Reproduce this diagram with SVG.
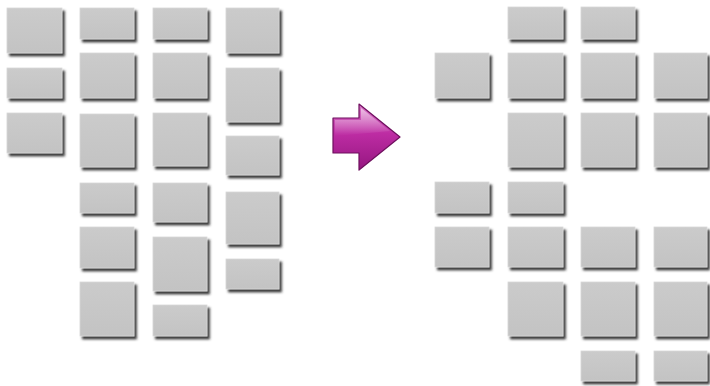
<svg xmlns="http://www.w3.org/2000/svg" width="710" height="386" viewBox="0 0 710 386">
<defs>
<filter id="sh" x="-20%" y="-20%" width="150%" height="150%">
<feDropShadow dx="2.5" dy="3" stdDeviation="1" flood-color="#333333" flood-opacity="0.95"/>
</filter>
<linearGradient id="bg" x1="0" y1="0" x2="0" y2="1">
<stop offset="0" stop-color="#cbcbcb"/>
<stop offset="1" stop-color="#c3c3c3"/>
</linearGradient>
<linearGradient id="ag" x1="0" y1="0" x2="0" y2="1">
<stop offset="0" stop-color="#d978c8"/>
<stop offset="0.45" stop-color="#bd2ca3"/>
<stop offset="1" stop-color="#951680"/>
</linearGradient>
<linearGradient id="hl" x1="0" y1="0" x2="0" y2="1">
<stop offset="0" stop-color="#ffffff" stop-opacity="0.55"/>
<stop offset="1" stop-color="#ffffff" stop-opacity="0"/>
</linearGradient>
</defs>
<style>
.b{fill:url(#bg);stroke:#d8d8d8;stroke-width:0.8;filter:url(#sh)}
</style>
<rect width="710" height="386" fill="#ffffff"/>
<g id="left">
<rect class="b" x="7" y="8" width="55" height="45"/>
<rect class="b" x="7" y="68" width="55" height="30"/>
<rect class="b" x="7" y="113" width="55" height="40"/>
<rect class="b" x="80" y="8" width="54" height="31"/>
<rect class="b" x="80" y="53" width="54" height="45"/>
<rect class="b" x="80" y="114" width="54" height="53"/>
<rect class="b" x="80" y="183" width="54" height="30"/>
<rect class="b" x="80" y="227" width="54" height="41"/>
<rect class="b" x="80" y="282" width="54" height="54"/>
<rect class="b" x="153" y="8" width="54" height="31"/>
<rect class="b" x="153" y="53" width="54" height="45"/>
<rect class="b" x="153" y="113" width="54" height="53"/>
<rect class="b" x="153" y="183" width="54" height="39"/>
<rect class="b" x="153" y="237" width="54" height="54"/>
<rect class="b" x="153" y="305" width="54" height="31"/>
<rect class="b" x="226" y="8" width="53" height="45"/>
<rect class="b" x="226" y="68" width="53" height="54"/>
<rect class="b" x="226" y="136" width="53" height="39"/>
<rect class="b" x="226" y="192" width="53" height="52"/>
<rect class="b" x="226" y="259" width="53" height="30"/>
</g>
<g id="arrow">
<path d="M333,118 L359,118 L359,104 L400,137 L359,170 L359,153 L333,153 Z" fill="url(#ag)" stroke="#6e0f5e" stroke-width="1.2" stroke-linejoin="round"/>
<path d="M335,120 L361,120 L361,108 L390,131 L335,136 Z" fill="url(#hl)"/>
</g>
<g id="right">
<rect class="b" x="508" y="7" width="55" height="32"/>
<rect class="b" x="581" y="7" width="54" height="32"/>
<rect class="b" x="435" y="53" width="54" height="45"/>
<rect class="b" x="508" y="53" width="55" height="45"/>
<rect class="b" x="581" y="53" width="54" height="45"/>
<rect class="b" x="654" y="53" width="53" height="45"/>
<rect class="b" x="508" y="113" width="55" height="54"/>
<rect class="b" x="581" y="113" width="54" height="54"/>
<rect class="b" x="654" y="113" width="53" height="54"/>
<rect class="b" x="435" y="182" width="54" height="31"/>
<rect class="b" x="508" y="182" width="55" height="31"/>
<rect class="b" x="435" y="227" width="54" height="40"/>
<rect class="b" x="508" y="227" width="55" height="40"/>
<rect class="b" x="581" y="227" width="54" height="40"/>
<rect class="b" x="654" y="227" width="53" height="40"/>
<rect class="b" x="508" y="282" width="55" height="54"/>
<rect class="b" x="581" y="282" width="54" height="54"/>
<rect class="b" x="654" y="282" width="53" height="54"/>
<rect class="b" x="581" y="351" width="54" height="30"/>
<rect class="b" x="654" y="351" width="53" height="30"/>
</g>
</svg>
